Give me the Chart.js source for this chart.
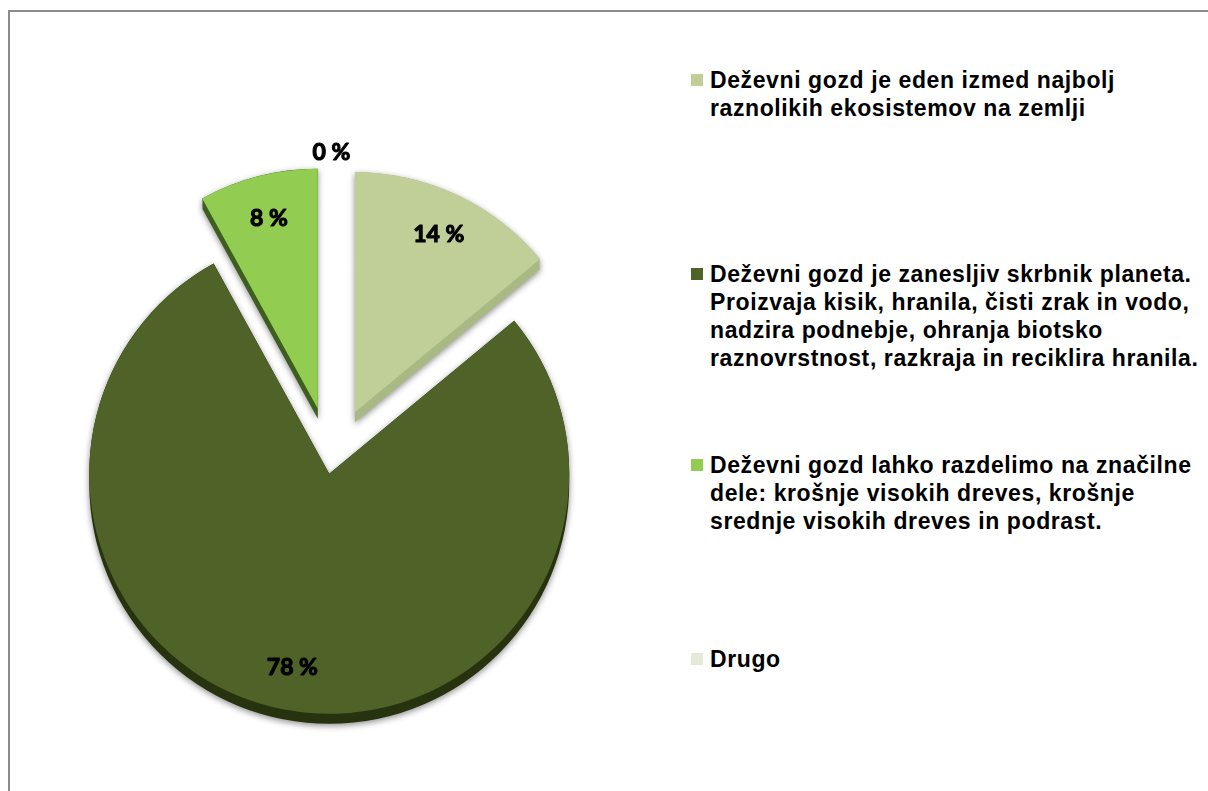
<!DOCTYPE html>
<html>
<head>
<meta charset="utf-8">
<script src="https://cdn.jsdelivr.net/npm/chart.js@4.4.1/dist/chart.umd.min.js"></script>
<style>
  html, body { margin: 0; padding: 0; background: #fff; width: 1208px; height: 791px; overflow: hidden; }
  #frame { position: absolute; left: 8px; top: 10px; width: 1400px; height: 1000px;
           border-left: 2px solid #8c8c8c; border-top: 2px solid #8c8c8c; }
  #pieBox { position: absolute; left: 0; top: 0; width: 663px; height: 791px; }
  #legend { position: absolute; left: 0; top: 0; font-family: "Liberation Sans", Arial, sans-serif;
            font-weight: bold; font-size: 23px; line-height: 28px; letter-spacing: 0.6px; color: #000; }
  .item { position: absolute; left: 710px; white-space: nowrap; }
  .box { position: absolute; left: -19px; top: 8px; width: 12px; height: 12px; }
</style>
</head>
<body>
<div id="frame"></div>
<div id="pieBox"><canvas id="pie"></canvas></div>
<div id="legend"></div>
<script>
// categories (one array of lines per legend entry)
const categories = [
  ["Deževni gozd je eden izmed najbolj", "raznolikih ekosistemov na zemlji"],
  ["Deževni gozd je zanesljiv skrbnik planeta.", "Proizvaja kisik, hranila, čisti zrak in vodo,",
   "nadzira podnebje, ohranja biotsko", "raznovrstnost, razkraja in reciklira hranila."],
  ["Deževni gozd lahko razdelimo na značilne", "dele: krošnje visokih dreves, krošnje",
   "srednje visokih dreves in podrast."],
  ["Drugo"]
];
const shares = [14, 78, 8, 0];

const faceColors = ["#bfcf97", "#4f6228", "#92cd52", "#e3ebd6"];
const sideColors = ["#a9b984", "#27320f", "#3d5e1e", "#c9d3bb"];
const explode = [55, 12, 55, 0];      // how far each slice is pulled out (px)
const legendTops = [66, 260, 451, 645];
const DEPTH = 10;

// pulls slices out, draws the 3D side walls and the % labels
const pie3d = {
  id: "pie3d",
  beforeDatasetsDraw(chart) {
    const ctx = chart.ctx;
    const arcs = chart.getDatasetMeta(0).data;
    arcs.forEach((arc, i) => {
      const mid = (arc.startAngle + arc.endAngle) / 2;
      arc._home = [arc.x, arc.y];
      arc.x += Math.cos(mid) * explode[i];
      arc.y += Math.sin(mid) * explode[i];
    });
    arcs.forEach((arc, i) => {
      if (arc.circumference <= 0) return;
      ctx.save();
      ctx.shadowColor = "rgba(0,0,0,0.45)";
      ctx.shadowBlur = 6;
      ctx.shadowOffsetY = 2;
      ctx.fillStyle = sideColors[i];
      ctx.beginPath();
      for (let k = 0; k <= DEPTH; k++) {
        ctx.moveTo(arc.x, arc.y + k);
        ctx.arc(arc.x, arc.y + k, arc.outerRadius, arc.startAngle, arc.endAngle);
        ctx.closePath();
      }
      ctx.fill();
      ctx.restore();
    });
  },
  afterDatasetsDraw(chart) {
    const ctx = chart.ctx;
    const arcs = chart.getDatasetMeta(0).data;
    ctx.save();
    ctx.font = "bold 23px Lato, sans-serif";
    ctx.fillStyle = "#000";
    ctx.strokeStyle = "#000";
    ctx.lineWidth = 1.1;
    ctx.lineJoin = "round";
    ctx.textAlign = "center";
    ctx.textBaseline = "middle";
    arcs.forEach((arc, i) => {
      const mid = (arc.startAngle + arc.endAngle) / 2;
      const d = shares[i] === 0 ? arc.outerRadius * 1.29 : arc.outerRadius * 0.82;
      const tx = arc.x + Math.cos(mid) * d, ty = arc.y + Math.sin(mid) * d;
      ctx.fillText(shares[i] + " %", tx, ty);
      ctx.strokeText(shares[i] + " %", tx, ty);
    });
    ctx.restore();
    arcs.forEach(arc => { arc.x = arc._home[0]; arc.y = arc._home[1]; });
  }
};

new Chart(document.getElementById("pie"), {
  type: "pie",
  data: {
    labels: categories,
    datasets: [{
      data: shares,
      backgroundColor: faceColors,
      borderWidth: 0,
      radius: 240
    }]
  },
  options: {
    responsive: true,
    maintainAspectRatio: false,
    animation: false,
    layout: { padding: { top: 133 } },
    plugins: { legend: { display: false }, tooltip: { enabled: false } }
  },
  plugins: [pie3d]
});

// legend on the right
const legend = document.getElementById("legend");
categories.forEach((lines, i) => {
  const item = document.createElement("div");
  item.className = "item";
  item.style.top = legendTops[i] + "px";
  const box = document.createElement("span");
  box.className = "box";
  box.style.background = faceColors[i];
  item.appendChild(box);
  lines.forEach((line, j) => {
    if (j) item.appendChild(document.createElement("br"));
    item.appendChild(document.createTextNode(line));
  });
  legend.appendChild(item);
});
</script>
</body>
</html>
